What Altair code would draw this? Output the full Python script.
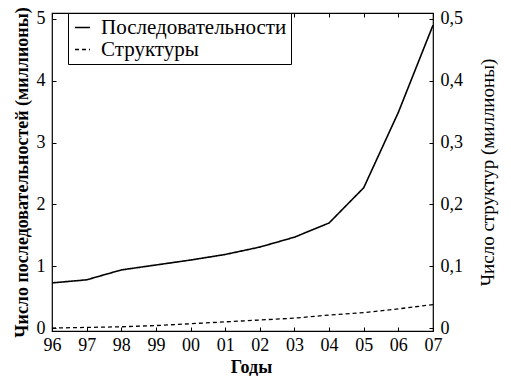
import altair as alt
import pandas as pd

years = ["96", "97", "98", "99", "00", "01", "02", "03", "04", "05", "06", "07"]
sequences = [0.73, 0.78, 0.94, 1.02, 1.10, 1.19, 1.31, 1.47, 1.70, 2.27, 3.49, 4.90]
structures = [0.000, 0.001, 0.002, 0.004, 0.007, 0.010, 0.013, 0.016, 0.021, 0.025, 0.031, 0.038]
series_names = ["Последовательности", "Структуры"]
left_ticks = [0, 1, 2, 3, 4, 5]
right_ticks = [0, 0.1, 0.2, 0.3, 0.4, 0.5]

df = pd.DataFrame({
    "year": years * 2,
    "series": [series_names[0]] * len(years) + [series_names[1]] * len(years),
    "value": sequences + structures,
})

FONT = "Liberation Serif"
xs = alt.Scale(type="point", padding=0, domain=years)
yL = alt.Scale(domain=[-0.048, 5.097], nice=False, zero=False)
yR = alt.Scale(domain=[-0.0048, 0.5097], nice=False, zero=False)

dash = alt.StrokeDash(
    "series:N",
    scale=alt.Scale(domain=series_names, range=[[1, 0], [4, 3]]),
    legend=alt.Legend(
        title=None, orient="none", legendX=16, legendY=0,
        symbolType="stroke", symbolSize=225, symbolStrokeWidth=1.3,
        symbolStrokeColor="black", labelFont=FONT, labelFontSize=21,
        labelColor="black", strokeColor="black", fillColor="white",
        padding=4, rowPadding=0, labelOffset=8, labelLimit=400,
    ),
)

base = alt.Chart(df)
seq = base.transform_filter(alt.datum.series == series_names[0])
st = base.transform_filter(alt.datum.series == series_names[1])

common_lab = dict(labelFont=FONT, labelColor="black", titleFont=FONT, titleColor="black")

A = seq.mark_line(color="black", strokeWidth=1.6).encode(
    x=alt.X("year:O", sort=years, scale=xs, axis=alt.Axis(
        orient="bottom", title="Годы", ticks=False, domain=False, labelAngle=0,
        labelPadding=5, labelFontSize=18, titleFontSize=18, titleFontWeight="bold",
        titleX=199, titleY=41, titleBaseline="alphabetic", titleAlign="center", **common_lab)),
    y=alt.Y("value:Q", scale=yL, axis=alt.Axis(
        orient="left", values=left_ticks, ticks=False, domain=False, labelPadding=7,
        labelFontSize=18, title="Число последовательностей (миллионы)",
        titleFontSize=18, titleFontWeight="bold", titleAngle=270,
        titleX=-25, titleY=159, titleBaseline="alphabetic", titleAlign="center", **common_lab)),
    strokeDash=dash,
)

B = st.mark_line(color="black", strokeWidth=1.3).encode(
    x=alt.X("year:O", sort=years, scale=xs, axis=None),
    y=alt.Y("value:Q", scale=yR, axis=alt.Axis(
        orient="right", values=right_ticks, ticks=False, domain=False, labelPadding=7,
        labelFontSize=18,
        labelExpr="datum.value == 0 ? '0' : replace(format(datum.value, '.1f'), '.', ',')",
        title="Число структур (миллионы)", titleFontSize=19, titleFontWeight="normal",
        titleAngle=270, titleX=60, titleY=159, titleBaseline="alphabetic",
        titleAlign="center", **common_lab)),
    strokeDash=dash,
)

C = seq.mark_line(opacity=0).encode(
    x=alt.X("year:O", sort=years, scale=xs, axis=alt.Axis(
        orient="bottom", offset=-4, tickSize=4, labels=False, domain=False,
        title=None, tickColor="black")),
    y=alt.Y("value:Q", scale=yL, axis=alt.Axis(
        orient="left", offset=-4, tickSize=4, labels=False, domain=False,
        title=None, values=left_ticks, tickColor="black")),
)

D = st.mark_line(opacity=0).encode(
    x=alt.X("year:O", sort=years, scale=xs, axis=alt.Axis(
        orient="top", offset=-4, tickSize=4, labels=False, domain=False,
        title=None, tickColor="black")),
    y=alt.Y("value:Q", scale=yR, axis=alt.Axis(
        orient="right", offset=-4, tickSize=4, labels=False, domain=False,
        title=None, values=right_ticks, tickColor="black")),
)

chart = (
    alt.layer(A, B, C, D)
    .resolve_scale(y="independent")
    .resolve_axis(x="independent", y="independent")
    .properties(
        width=381, height=318,
        autosize=alt.AutoSizeParams(type="none"),
        padding={"left": 44, "top": 5, "right": 70, "bottom": 45},
    )
    .configure_view(stroke="black", strokeWidth=1.2)
    .configure_axis(grid=False)
)

chart.save("out.html", embed_options={"renderer": "svg", "actions": False})
